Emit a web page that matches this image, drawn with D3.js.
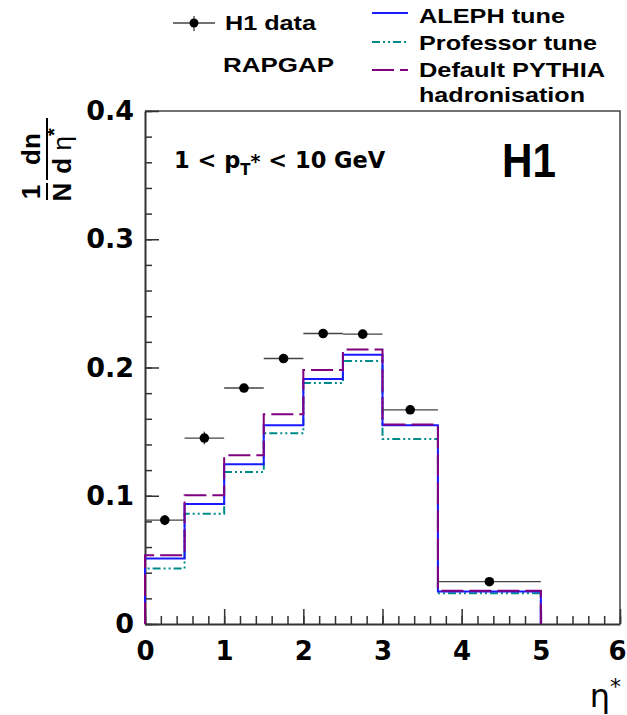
<!doctype html>
<html lang="en">
<head>
  <meta charset="utf-8">
  <title>H1 eta* distribution</title>
  <script src="https://d3js.org/d3.v7.min.js"></script>
  <style>
    body { margin: 0; background: #fff; }
    svg { display: block; font-family: 'Liberation Sans', Arial, sans-serif; }
    .axis .domain { stroke: #333; stroke-width: 2; }
    .axis line { stroke: #333; stroke-width: 1.5; }
    .axis text { font-size: 27px; font-weight: bold; fill: #000; font-family: 'DejaVu Sans', sans-serif; }
    .xaxis text { font-size: 26px; }
  </style>
</head>
<body>
<svg width="627" height="715"></svg>
<script>
// bins in eta*
var binEdges = [0, 0.5, 1, 1.5, 2, 2.5, 3, 3.7, 5];
// H1 data and stat errors
var h1Data = [0.081, 0.145, 0.184, 0.207, 0.2265, 0.226, 0.167, 0.033];
var h1Err  = [0.004, 0.005, 0.003, 0.003, 0.003, 0.003, 0.003, 0.002];
// RAPGAP predictions
var aleph     = [0.051, 0.0935, 0.1245, 0.155, 0.191, 0.210, 0.155, 0.0253];
var professor = [0.0432, 0.086, 0.1185, 0.1487, 0.188, 0.205, 0.1443, 0.024];
var pythia    = [0.0537, 0.1003, 0.1315, 0.1635, 0.198, 0.214, 0.1555, 0.026];
// axis ticks
var xTicks = [0, 1, 2, 3, 4, 5, 6];
var yTicks = [0, 0.1, 0.2, 0.3, 0.4];

var svg = d3.select("svg"),
    margin = {top: 111, right: 7, bottom: 91, left: 145},
    width = 620 - margin.left,
    height = 624 - margin.top,
    g = svg.append("g").attr("transform", "translate(" + margin.left + "," + margin.top + ")");

var x = d3.scaleLinear().domain([0, 6]).range([0, width]);
var y = d3.scaleLinear().domain([0, 0.4]).range([height, 0]);

// frame top and right
g.append("path")
    .attr("d", "M0,0H" + width + "V" + height)
    .attr("fill", "none")
    .attr("stroke", "#444")
    .attr("stroke-width", 1.5);

// minor ticks
g.append("g").attr("class", "axis")
    .call(d3.axisLeft(y).tickValues(d3.range(0, 0.401, 0.02)).tickSize(-7).tickFormat(""))
    .select(".domain").remove();
g.append("g").attr("class", "axis")
    .attr("transform", "translate(0," + height + ")")
    .call(d3.axisBottom(x).tickValues(d3.range(0, 6.01, 0.2)).tickSize(-8).tickFormat(""))
    .select(".domain").remove();

// major ticks + labels
g.append("g").attr("class", "axis")
    .call(d3.axisLeft(y).tickValues(yTicks).tickSize(-14).tickSizeOuter(0).tickPadding(11)
      .tickFormat(function(d) { return d === 0 ? "0" : d3.format(".1f")(d); }));
g.append("g").attr("class", "axis xaxis")
    .attr("transform", "translate(0," + height + ")")
    .call(d3.axisBottom(x).tickValues(xTicks).tickSize(-15).tickSizeOuter(0).tickPadding(18)
      .tickFormat(d3.format("d")))
  .selectAll(".tick text")
    .filter(function(d) { return d === 6; })
    .attr("dx", -3);

// histogram outlines
function stepPoints(vals) {
  var pts = [[binEdges[0], 0]];
  vals.forEach(function(v, i) {
    pts.push([binEdges[i], v]);
    pts.push([binEdges[i + 1], v]);
  });
  pts.push([binEdges[binEdges.length - 1], 0]);
  return pts;
}
var line = d3.line().x(function(d) { return x(d[0]); }).y(function(d) { return y(d[1]); });

var series = [
  {vals: professor, color: "#008b8b", dash: "8,3,2,3,2,3"},
  {vals: aleph, color: "#1a1aff", dash: null},
  {vals: pythia, color: "#800080", dash: "22,6"}
];
series.forEach(function(s) {
  g.append("path")
      .attr("d", line(stepPoints(s.vals)))
      .attr("fill", "none")
      .attr("stroke", s.color)
      .attr("stroke-width", 2)
      .attr("stroke-dasharray", s.dash);
});

// data points
var pts = g.append("g").selectAll("g")
    .data(h1Data.map(function(v, i) { return {v: v, e: h1Err[i], lo: binEdges[i], hi: binEdges[i + 1]}; }))
    .enter().append("g");
pts.append("line")
    .attr("x1", function(d) { return x(d.lo); })
    .attr("x2", function(d) { return x(d.hi); })
    .attr("y1", function(d) { return y(d.v); })
    .attr("y2", function(d) { return y(d.v); })
    .attr("stroke", "#444").attr("stroke-width", 1.3);
pts.append("line")
    .attr("x1", function(d) { return x((d.lo + d.hi) / 2); })
    .attr("x2", function(d) { return x((d.lo + d.hi) / 2); })
    .attr("y1", function(d) { return y(d.v - d.e); })
    .attr("y2", function(d) { return y(d.v + d.e); })
    .attr("stroke", "#444").attr("stroke-width", 1.3);
pts.append("circle")
    .attr("cx", function(d) { return x((d.lo + d.hi) / 2); })
    .attr("cy", function(d) { return y(d.v); })
    .attr("r", 4.8)
    .attr("fill", "#000");

// texts inside the frame
var kin = svg.append("text")
    .attr("x", 174).attr("y", 168)
    .attr("font-family", "'DejaVu Sans', sans-serif")
    .attr("font-size", 22.5).attr("font-weight", "bold");
kin.append("tspan").text("1 < p");
kin.append("tspan").attr("font-size", 15).attr("dy", 7).text("T");
kin.append("tspan").attr("dy", -7).attr("font-size", 19).text("*");
kin.append("tspan").text(" < 10 GeV");

svg.append("text")
    .attr("x", 502).attr("y", 177)
    .attr("font-size", 48).attr("font-weight", "bold")
    .attr("textLength", 54).attr("lengthAdjust", "spacingAndGlyphs")
    .text("H1");

// y title: 1/N dn/deta*
var yt = svg.append("g")
    .attr("transform", "translate(47,200) rotate(-90)")
    .attr("font-weight", "bold").attr("font-size", 26);
yt.append("text").attr("x", 8).attr("y", -7).attr("text-anchor", "middle").text("1");
yt.append("text").attr("x", 8).attr("y", 24).attr("text-anchor", "middle").text("N");
yt.append("line").attr("x1", 0).attr("x2", 17).attr("y1", 0).attr("y2", 0)
    .attr("stroke", "#000").attr("stroke-width", 2);
yt.append("text").attr("x", 51).attr("y", -7).attr("text-anchor", "middle").text("dn");
var dd = yt.append("text").attr("x", 49).attr("y", 24).attr("text-anchor", "middle");
dd.append("tspan").text("d ");
dd.append("tspan").attr("font-weight", "normal").text("\u03b7");
dd.append("tspan").attr("dy", -10).attr("font-size", 20).text("*");
yt.append("line").attr("x1", 20).attr("x2", 82).attr("y1", 0).attr("y2", 0)
    .attr("stroke", "#000").attr("stroke-width", 2);

// x title
var xt = svg.append("text")
    .attr("x", 621).attr("y", 707)
    .attr("text-anchor", "end")
    .attr("font-family", "'DejaVu Sans', sans-serif")
    .attr("font-size", 32);
xt.append("tspan").text("\u03b7");
xt.append("tspan").attr("dy", -13).attr("font-size", 22).text("*");

// legend
var leg = svg.append("g").attr("font-size", 20.5).attr("font-weight", "bold");
leg.append("line").attr("x1", 173).attr("x2", 215).attr("y1", 23).attr("y2", 23)
    .attr("stroke", "#444").attr("stroke-width", 1.3);
leg.append("line").attr("x1", 194).attr("x2", 194).attr("y1", 16).attr("y2", 31)
    .attr("stroke", "#444").attr("stroke-width", 1.3);
leg.append("circle").attr("cx", 194).attr("cy", 23).attr("r", 4.5).attr("fill", "#000");

function legText(xp, yp, w, s) {
  leg.append("text").attr("x", xp).attr("y", yp)
      .attr("textLength", w).attr("lengthAdjust", "spacingAndGlyphs")
      .text(s);
}
legText(225, 30, 91, "H1 data");
legText(223, 72, 111, "RAPGAP");

var legItems = [
  {label: "ALEPH tune", color: "#1a1aff", dash: null, ly: 13, ty: 23, w: 146},
  {label: "Professor tune", color: "#008b8b", dash: "8,3,2,3,2,3", ly: 42, ty: 50, w: 178},
  {label: "Default PYTHIA", color: "#800080", dash: "22,6", ly: 70, ty: 77, w: 186}
];
legItems.forEach(function(d) {
  leg.append("line").attr("x1", 372).attr("x2", 408).attr("y1", d.ly).attr("y2", d.ly)
      .attr("stroke", d.color).attr("stroke-width", 2).attr("stroke-dasharray", d.dash);
  legText(419, d.ty, d.w, d.label);
});
legText(419, 102, 166, "hadronisation");
</script>
</body>
</html>
